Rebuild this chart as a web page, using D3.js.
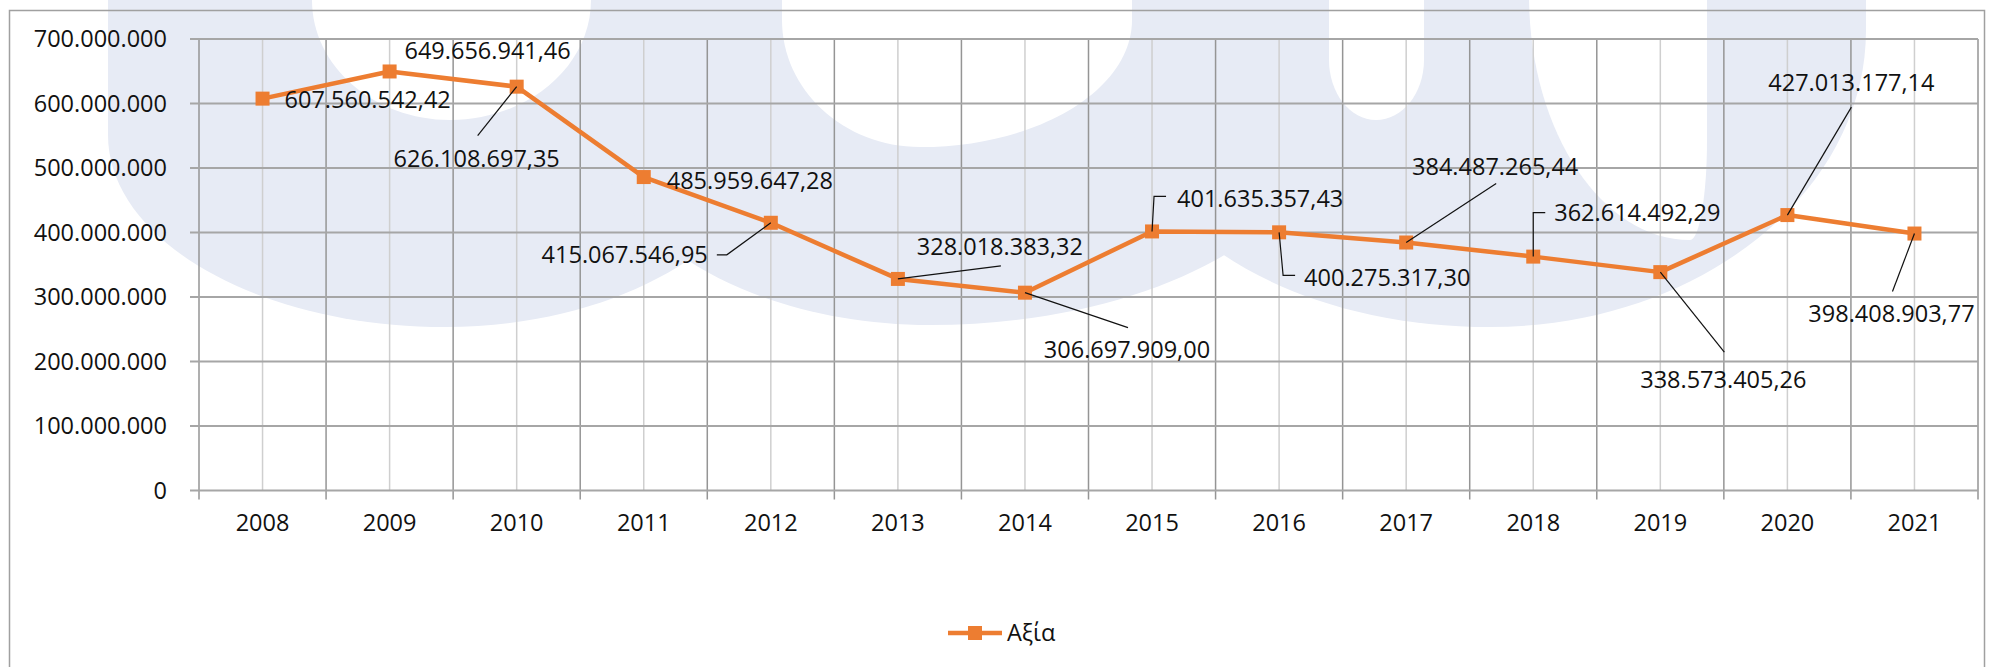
<!DOCTYPE html>
<html>
<head>
<meta charset="utf-8">
<script src="https://cdn.jsdelivr.net/npm/d3@7"></script>
<style>
  body { margin: 0; background: #fff; }
  svg { display: block; }
  text { font-family: "Open Sans", "Noto Sans", sans-serif; fill: #111; }
</style>
</head>
<body>
<div id="chart"></div>
<script>
// δεδομένα
const years = ['2008', '2009', '2010', '2011', '2012', '2013', '2014',
               '2015', '2016', '2017', '2018', '2019', '2020', '2021'];
const values = [607560542.42, 649656941.46, 626108697.35, 485959647.28, 415067546.95,
                328018383.32, 306697909.00, 401635357.43, 400275317.30, 384487265.44,
                362614492.29, 338573405.26, 427013177.14, 398408903.77];
const yTicks = [0, 100000000, 200000000, 300000000, 400000000, 500000000, 600000000, 700000000];
const seriesName = 'Αξία';

// θέση ετικετών (offset από το σημείο) και γραμμές οδηγοί
const labelLayout = [
  { dx: 22, dy: 1, anchor: 'start', leader: null },
  { dx: 98, dy: -21, anchor: 'middle', leader: null },
  { dx: -40, dy: 72, anchor: 'middle', leader: [[0, 0], [-39, 49]] },
  { dx: 23, dy: 3, anchor: 'start', leader: null },
  { dx: -63, dy: 32, anchor: 'end', leader: [[0, 0], [-44, 32], [-54, 32]] },
  { dx: 102, dy: -32, anchor: 'middle', leader: [[0, 0], [103, -13]] },
  { dx: 102, dy: 57, anchor: 'middle', leader: [[0, 0], [103, 35]] },
  { dx: 25, dy: -33, anchor: 'start', leader: [[0, 0], [2, -35], [14, -35]] },
  { dx: 25, dy: 45, anchor: 'start', leader: [[0, 0], [4, 43], [16, 43]] },
  { dx: 89, dy: -76, anchor: 'middle', leader: [[0, 0], [90, -59]] },
  { dx: 21, dy: -44, anchor: 'start', leader: [[0, 0], [0, -44], [12, -44]] },
  { dx: 63, dy: 107, anchor: 'middle', leader: [[0, 0], [64, 80]] },
  { dx: 64, dy: -133, anchor: 'middle', leader: [[0, 0], [64, -108]] },
  { dx: -23, dy: 80, anchor: 'middle', leader: [[0, 0], [-22, 58]] }
];

// υδατογράφημα (λογότυπο στο φόντο): καμπύλες "U"
const wmOuter = [
  { x0: 108, x1: 782, ysL: 135, ysR: 110, xb: 445, yb: 327 },
  { x0: 591, x1: 1329, ysL: 110, ysR: 110, xb: 930, yb: 325 },
  { x0: 1132, x1: 1866, ysL: 110, ysR: 30, xb: 1490, yb: 327 }
];
const wmHoles = [
  { x0: 312, x1: 591, ysL: 0, ysR: 0, xb: 450, yb: 120 },
  { x0: 782, x1: 1132, ysL: 20, ysR: 20, xb: 920, yb: 147 },
  { x0: 1529, x1: 1707, ysL: -5, ysR: 140, xb: 1690, yb: 240 },
  { x0: 1329, x1: 1424, ysL: 60, ysR: 60, xb: 1376, yb: 120 }
];

const W = 1994, H = 667;
const margin = { left: 199, right: 16, top: 39, bottom: 176.5 };
const orange = '#ED7D31';
const fontSize = 23.5;

const gr = d3.formatLocale({ decimal: ',', thousands: '.', grouping: [3], currency: ['', '€'] });
const fmtAxis = gr.format(',.0f');
const fmtLabel = gr.format(',.2f');

const svg = d3.select('#chart').append('svg')
  .attr('width', W)
  .attr('height', H);

// φόντο υδατογραφήματος
function bowl(d) {
  const k = 0.552;
  return `M${d.x0},-5L${d.x0},${d.ysL}` +
    `C${d.x0},${d.ysL + k * (d.yb - d.ysL)} ${d.xb - k * (d.xb - d.x0)},${d.yb} ${d.xb},${d.yb}` +
    `C${d.xb + k * (d.x1 - d.xb)},${d.yb} ${d.x1},${d.ysR + k * (d.yb - d.ysR)} ${d.x1},${d.ysR}` +
    `L${d.x1},-5Z`;
}
const wm = svg.append('g');
wm.selectAll('path.o').data(wmOuter).enter().append('path')
  .attr('d', bowl).attr('fill', '#E7EBF5');
wm.selectAll('path.h').data(wmHoles).enter().append('path')
  .attr('d', bowl).attr('fill', '#ffffff');

const x = d3.scaleBand()
  .domain(years)
  .range([margin.left, W - margin.right]);

const y = d3.scaleLinear()
  .domain([0, 700000000])
  .range([H - margin.bottom, margin.top]);

const grid = svg.append('g');

// κάθετες δευτερεύουσες γραμμές (κέντρα κατηγοριών)
grid.selectAll('line.minor').data(years).enter().append('line')
  .attr('x1', d => x(d) + x.bandwidth() / 2)
  .attr('x2', d => x(d) + x.bandwidth() / 2)
  .attr('y1', y(700000000))
  .attr('y2', y(0))
  .attr('stroke', '#CFCFCF')
  .attr('stroke-width', 1.5);

// κάθετες κύριες γραμμές (όρια κατηγοριών) με υποδιαιρέσεις
const bounds = years.map(d => x(d)).concat([x(years[years.length - 1]) + x.bandwidth()]);
grid.selectAll('line.major').data(bounds).enter().append('line')
  .attr('x1', d => d)
  .attr('x2', d => d)
  .attr('y1', y(700000000))
  .attr('y2', y(0) + 9)
  .attr('stroke', '#959595')
  .attr('stroke-width', 1.5);

// οριζόντιες γραμμές πλέγματος
grid.selectAll('line.h').data(yTicks).enter().append('line')
  .attr('x1', margin.left - 9)
  .attr('x2', W - margin.right)
  .attr('y1', d => y(d))
  .attr('y2', d => y(d))
  .attr('stroke', '#A6A6A6')
  .attr('stroke-width', 2);

// άξονας y
const yAxis = svg.append('g')
  .attr('transform', `translate(${margin.left},0)`)
  .call(d3.axisLeft(y).tickValues(yTicks).tickSize(0).tickPadding(32).tickFormat(fmtAxis));
yAxis.select('.domain').remove();
yAxis.selectAll('text')
  .style('font-family', '"Open Sans", sans-serif')
  .style('font-size', fontSize + 'px')
  .attr('fill', '#111');

// άξονας x
const xAxis = svg.append('g')
  .attr('transform', `translate(0,${y(0)})`)
  .call(d3.axisBottom(x).tickSize(0).tickPadding(24));
xAxis.select('.domain').remove();
xAxis.selectAll('text')
  .style('font-family', '"Open Sans", sans-serif')
  .style('font-size', fontSize + 'px')
  .attr('fill', '#111');

// γραμμή σειράς
const pts = years.map((d, i) => [x(d) + x.bandwidth() / 2, y(values[i])]);
svg.append('path')
  .datum(pts)
  .attr('d', d3.line())
  .attr('fill', 'none')
  .attr('stroke', orange)
  .attr('stroke-width', 4.5)
  .attr('stroke-linejoin', 'round');

const ms = 14;
svg.append('g').selectAll('rect').data(pts).enter().append('rect')
  .attr('x', d => d[0] - ms / 2)
  .attr('y', d => d[1] - ms / 2)
  .attr('width', ms)
  .attr('height', ms)
  .attr('fill', orange);

// γραμμές οδηγοί
svg.append('g').selectAll('path').data(labelLayout.filter(l => l.leader))
  .enter().append('path')
  .attr('d', l => {
    const i = labelLayout.indexOf(l);
    return d3.line()(l.leader.map(p => [pts[i][0] + p[0], pts[i][1] + p[1]]));
  })
  .attr('fill', 'none')
  .attr('stroke', '#111')
  .attr('stroke-width', 1.2);

// ετικέτες τιμών
svg.append('g').selectAll('text').data(values).enter().append('text')
  .attr('x', (d, i) => pts[i][0] + labelLayout[i].dx)
  .attr('y', (d, i) => pts[i][1] + labelLayout[i].dy)
  .attr('dy', '0.36em')
  .attr('text-anchor', (d, i) => labelLayout[i].anchor)
  .style('font-size', fontSize + 'px')
  .text(d => fmtLabel(d));

// υπόμνημα
const legend = svg.append('g').attr('transform', 'translate(975,633)');
legend.append('line')
  .attr('x1', -27).attr('x2', 27)
  .attr('stroke', orange).attr('stroke-width', 4.5);
legend.append('rect')
  .attr('x', -7).attr('y', -7).attr('width', 14).attr('height', 14)
  .attr('fill', orange);
legend.append('text')
  .attr('x', 32)
  .attr('dy', '0.36em')
  .style('font-size', fontSize + 'px')
  .text(seriesName);

// περίγραμμα γραφήματος
svg.append('rect')
  .attr('x', 9.5).attr('y', 10.5)
  .attr('width', 1975).attr('height', 670)
  .attr('fill', 'none')
  .attr('stroke', '#A0A0A0')
  .attr('stroke-width', 1.5);
</script>
</body>
</html>
